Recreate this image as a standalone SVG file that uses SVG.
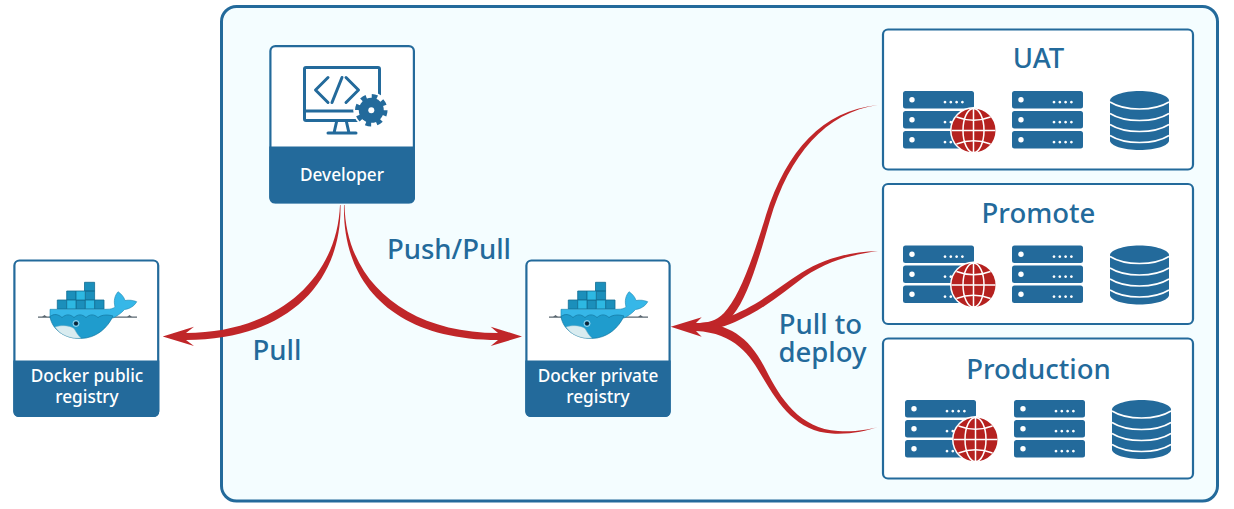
<svg xmlns="http://www.w3.org/2000/svg" xmlns:xlink="http://www.w3.org/1999/xlink" width="1234" height="509" viewBox="0 0 1234 509">
<style>
.box{fill:#fff;stroke:#236a9b;stroke-width:2.2}
.head{fill:#236a9b}
.t{font-family:"Noto Sans","Open Sans",sans-serif;text-anchor:middle}
.w{fill:#fff;font-size:17.2px;font-weight:500}
.b{fill:#236a9b;font-size:27.5px;font-weight:500}
.c{fill:#c02629}
.blue{fill:#236a9b}
</style>
<defs>
<g id="whale">
<path d="M38 317.200H52M108 317.200H137" stroke="#5a6770" stroke-width="1.200" fill="none"/>
<path d="M42 317l2.500-2 2.500 2zM127 317l2.500-2 2.500 2z" fill="#5a6770"/>
<g stroke="#136d93" stroke-width=".8">
<path fill="#1b8fbb" d="M57.300 300h9.400v9h-9.400zM76 300h9.300v9H76zM94.600 300h9.400v9h-9.400zM66.700 291h9.300v9h-9.300zM85.300 291h9.300v9h-9.300zM84.500 282.300h10.100V291H84.500z"/>
<path fill="#2db8e2" d="M66.700 300H76v9h-9.300zM85.300 300h9.300v9h-9.300zM76 291h9.300v9H76z"/>
</g>
<path fill="#36b7e8" stroke="#1a86b2" stroke-width=".6" d="M50 309.300H106C111 309.300 113.500 308.500 115 306.700C113.500 301 114.500 296 118 291.700C121.500 294 124 297 125 300.500C129 299.800 133 300.200 136.700 301.700C134.500 306 129.500 309 124.500 309.500C121 313.500 117 316 113 318H50Z"/>
<path fill="#1f9ccd" stroke="#13769f" stroke-width=".7" d="M50 316.500C54 313.500 58 314 62 317.500C66 314 70 314 74 317.500C78 314 82 314 86 317.500C90 314 94 314 98 317.500C102 314.500 108 314.500 113 316C108 327 97 338.500 80 338.500C65 338.500 52 330 50 316.500Z"/>
<path fill="#d9ecf0" stroke="#7fb4c8" stroke-width=".5" d="M55 327C61 325 69 325 74 328.500C76 332 78 335.500 81 338.300C69 339 60 334.500 55 327Z"/>
<circle cx="76" cy="323.500" r="2" fill="#123"/>
<circle cx="76" cy="323.500" r="3" fill="none" stroke="#cfeaf5" stroke-width=".7"/>
</g>
<g id="server">
<g class="blue">
<rect width="71" height="17.500" rx="2.500"/>
<rect y="20" width="71" height="17.500" rx="2.500"/>
<rect y="40" width="71" height="17.500" rx="2.500"/>
</g>
<g fill="#fff">
<circle cx="9" cy="8.700" r="2.700"/><circle cx="9" cy="28.700" r="2.700"/><circle cx="9" cy="48.700" r="2.700"/>
<path d="M42 10a1.400 1.400 0 1 0 .01 0zM47.800 10a1.400 1.400 0 1 0 .01 0zM53.600 10a1.400 1.400 0 1 0 .01 0zM59.400 10a1.400 1.400 0 1 0 .01 0zM42 30a1.400 1.400 0 1 0 .01 0zM47.800 30a1.400 1.400 0 1 0 .01 0zM53.600 30a1.400 1.400 0 1 0 .01 0zM59.400 30a1.400 1.400 0 1 0 .01 0zM42 50a1.400 1.400 0 1 0 .01 0zM47.800 50a1.400 1.400 0 1 0 .01 0zM53.600 50a1.400 1.400 0 1 0 .01 0zM59.400 50a1.400 1.400 0 1 0 .01 0z" transform="translate(0 -.300)"/>
</g>
</g>
<g id="globe">
<circle r="23.500" fill="#fff"/>
<circle r="22" fill="#b5211f"/>
<g fill="none" stroke="#fff" stroke-width="1.500">
<path d="M-22 0H22M0-22V22"/>
<ellipse rx="10.500" ry="22"/>
<path d="M-17-13.500Q0-7 17-13.500M-17 13.500Q0 7 17 13.500"/>
</g>
</g>
<g id="db">
<path class="blue" d="M0 9.500C0 5 13 0 29.500 0S59 5 59 9.500V49.500C59 54.500 46 59 29.500 59S0 54.500 0 49.500Z"/>
<g fill="none" stroke="#fff" stroke-width="1.600">
<path d="M0 11C8 16 18 18 29.500 18S51 16 59 11M0 22.500C8 27.500 18 29.500 29.500 29.500S51 27.500 59 22.500M0 33.500C8 38.500 18 40.500 29.500 40.500S51 38.500 59 33.500M0 44.500C8 49.500 18 51.500 29.500 51.500S51 49.500 59 44.500"/>
</g>
</g>
</defs>
<rect width="1234" height="509" fill="#fff"/>
<rect id="frame" x="221.500" y="6.500" width="996" height="494.500" rx="15" fill="#f4fdff" stroke="#236a9b" stroke-width="3"/>

<g id="developer">
<rect class="box" x="270.400" y="46.100" width="143.500" height="156" rx="5"/>
<path class="head" d="M269.300 146.500H415V198a5.500 5.500 0 0 1-5.500 5.500H274.800a5.500 5.500 0 0 1-5.500-5.500Z"/>
<g fill="none" stroke="#236a9b" stroke-width="3" stroke-linejoin="round" stroke-linecap="round">
<rect x="304.500" y="67.500" width="75" height="53" rx="1.500"/>
<path d="M305 111H375M336.500 122L334 133M346.500 122L349 133M328 133H356"/>
<path d="M328 77.500L315.500 90L328 102.500M342 77.500L332 102.500M346 77.500L358.500 90L346 102.500"/>
</g>
<circle cx="371.300" cy="110.300" r="18" fill="#fff"/>
<circle cx="371.300" cy="110.300" r="12.500" fill="#236a9b"/>
<circle cx="371.300" cy="110.300" r="14" fill="none" stroke="#236a9b" stroke-width="4.500" stroke-dasharray="5.500 5.500"/>
<circle cx="371.300" cy="110.300" r="3" fill="#fff"/>
<text class="t w" x="342" y="181">Developer</text>
</g>

<g id="public-registry">
<rect class="box" x="14.400" y="260.500" width="143.800" height="155.500" rx="5"/>
<path class="head" d="M13.300 360.500H159.300V411.500a5.500 5.500 0 0 1-5.500 5.500H18.800a5.500 5.500 0 0 1-5.500-5.500Z"/>
<use href="#whale" xlink:href="#whale"/>
<text class="t w" x="87" y="382">Docker public<tspan x="87" y="403">registry</tspan></text>
</g>

<g id="private-registry">
<rect class="box" x="526.400" y="260.500" width="143.200" height="155.500" rx="5"/>
<path class="head" d="M525.300 360.500H670.700V411.500a5.500 5.500 0 0 1-5.500 5.500H530.800a5.500 5.500 0 0 1-5.500-5.500Z"/>
<use href="#whale" xlink:href="#whale" x="511"/>
<text class="t w" x="598" y="382">Docker private<tspan x="598" y="403">registry</tspan></text>
</g>

<g id="uat">
<rect class="box" x="883" y="29.500" width="310" height="140" rx="5"/>
<text class="t b" x="1038.500" y="68">UAT</text>
<use href="#server" xlink:href="#server" x="903" y="91"/>
<use href="#globe" xlink:href="#globe" x="973.500" y="130.500"/>
<use href="#server" xlink:href="#server" x="1012" y="91"/>
<use href="#db" xlink:href="#db" x="1110" y="91"/>
</g>

<g id="promote">
<rect class="box" x="883" y="184" width="310" height="140" rx="5"/>
<text class="t b" x="1038.500" y="223">Promote</text>
<use href="#server" xlink:href="#server" x="903" y="245.500"/>
<use href="#globe" xlink:href="#globe" x="973.500" y="285"/>
<use href="#server" xlink:href="#server" x="1012" y="245.500"/>
<use href="#db" xlink:href="#db" x="1110" y="245.500"/>
</g>

<g id="production">
<rect class="box" x="883" y="338.500" width="310" height="140" rx="5"/>
<text class="t b" x="1038.500" y="379">Production</text>
<use href="#server" xlink:href="#server" x="905" y="400"/>
<use href="#globe" xlink:href="#globe" x="975.500" y="439.500"/>
<use href="#server" xlink:href="#server" x="1014" y="400"/>
<use href="#db" xlink:href="#db" x="1112" y="400"/>
</g>

<g id="connectors" class="c">
<path d="M340 205C337 280 275 333 186 333L194 326.700L162.700 336.500L194 346L186 340C285 340 342 285 340.500 205Z"/>
<path d="M344.500 205C346 280 405 333 498 333L490.700 326.700L522 336.500L490.700 346L498 340C395 340 342 285 344 205Z"/>
<path d="M670.700 326.700L701.700 317.300L696 323L696 331L701.700 336.700Z"/>
<path d="M878 105C822 111 787 150 766 215C751 265 738 298 724 313C716 321 708 323 696 323L696 330C712 330 725 325 733 315C747 298 757 265 770 220C789 155 826 112 878 105Z"/>
<path d="M878 251C850 252 825 258 801 273C776 289 755 308 725 318C715 322 705 323 696 323L696 330C710 330 722 328 735 322C763 310 784 292 804 277C828 261 850 255 878 251Z"/>
<path d="M696 323C730 323 750 338 766 370C780 398 800 429 838 431C855 432 866 430 878 427C866 431 850 434.500 832 433.500C797 431.500 779 405 763 378C750 355 735 333 696 331Z"/>
</g>

<g id="labels">
<text class="t b" x="449" y="259">Push/Pull</text>
<text class="t b" x="277" y="360">Pull</text>
<text class="t b" x="820.500" y="334">Pull to<tspan x="822.500" y="362">deploy</tspan></text>
</g>
</svg>
